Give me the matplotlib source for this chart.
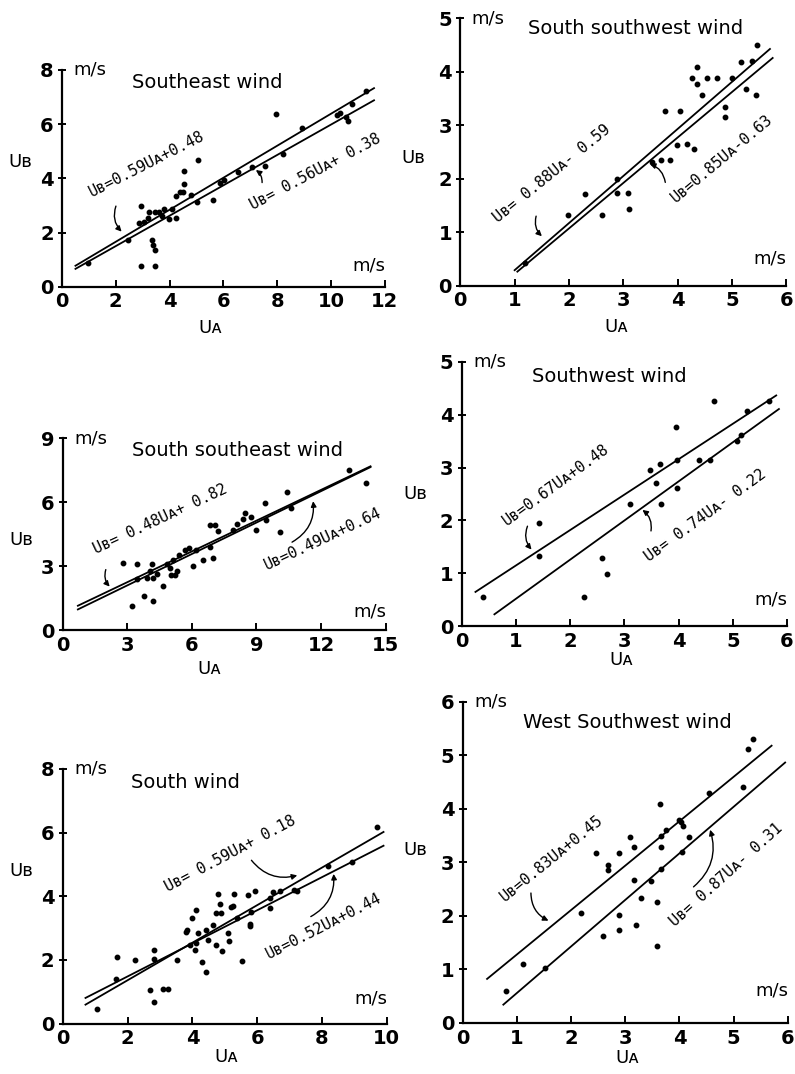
import matplotlib.pyplot as plt
import numpy as np

# ---- data ----
# Southeast wind
se_x = [0.95, 2.47, 2.93, 2.93, 2.88, 3.03, 3.25, 3.34, 3.40, 3.44, 3.46, 3.46, 3.60, 3.78,
        3.96, 4.08, 4.23, 4.23, 4.40, 4.50, 4.55, 4.55, 4.79, 5.01, 5.07, 5.63, 5.88, 6.03,
        6.56, 7.08, 7.55, 7.96, 8.20, 8.91, 10.23, 10.33, 10.54, 10.64, 10.77, 11.32, 3.20, 3.70]
se_y = [0.86, 1.72, 2.98, 0.77, 2.36, 2.40, 2.76, 1.74, 1.53, 1.37, 0.77, 2.76, 2.76, 2.86,
        2.51, 2.88, 2.55, 3.35, 3.50, 3.50, 3.80, 4.26, 3.37, 3.13, 4.69, 3.19, 3.84, 3.93,
        4.23, 4.42, 4.45, 6.36, 4.91, 5.85, 6.34, 6.41, 6.26, 6.11, 6.75, 7.21, 2.55, 2.60]

# South southwest wind
ssw_x = [1.19, 1.98, 2.29, 2.60, 2.89, 2.89, 3.09, 3.10, 3.53, 3.69, 3.77, 3.86, 3.98, 4.05,
         4.18, 4.27, 4.30, 4.35, 4.35, 4.45, 4.55, 4.72, 4.88, 4.88, 5.00, 5.16, 5.25, 5.37,
         5.47, 5.45]
ssw_y = [0.42, 1.32, 1.71, 1.32, 2.00, 1.74, 1.74, 1.43, 2.32, 2.35, 3.27, 2.35, 2.63, 3.27,
         2.64, 3.88, 2.55, 4.09, 3.78, 3.57, 3.88, 3.88, 3.16, 3.35, 3.88, 4.19, 3.67, 4.21,
         4.50, 3.57]

# South southeast wind
sse_x = [2.78, 3.20, 3.43, 3.43, 3.77, 3.90, 4.05, 4.13, 4.17, 4.20, 4.36, 4.64, 4.82, 4.98,
         5.05, 5.13, 5.20, 5.29, 5.39, 5.67, 5.87, 6.06, 6.21, 6.52, 6.86, 6.96, 6.83, 7.06,
         7.22, 7.90, 8.10, 8.38, 8.45, 8.76, 9.00, 9.41, 9.46, 10.08, 10.42, 10.62, 13.32, 14.10]
sse_y = [3.18, 1.13, 3.10, 2.43, 1.61, 2.47, 2.77, 3.10, 1.38, 2.47, 2.66, 2.08, 3.13, 2.94,
         2.58, 3.32, 2.58, 2.78, 3.52, 3.76, 3.88, 3.00, 3.76, 3.29, 3.91, 3.40, 4.93, 4.93,
         4.65, 4.70, 5.00, 5.24, 5.50, 5.31, 4.70, 5.95, 5.16, 4.61, 6.50, 5.75, 7.51, 6.92]

# Southwest wind
sw_x = [0.39, 1.42, 1.42, 2.25, 2.58, 2.68, 3.10, 3.48, 3.59, 3.66, 3.68, 3.96, 3.97, 3.97,
        4.37, 4.57, 4.65, 5.08, 5.15, 5.27, 5.66]
sw_y = [0.55, 1.95, 1.33, 0.55, 1.29, 0.98, 2.31, 2.95, 2.71, 3.06, 2.32, 3.76, 3.14, 2.62,
        3.14, 3.14, 4.27, 3.51, 3.62, 4.07, 4.27]

# South wind
s_x = [1.06, 1.67, 1.63, 2.22, 2.68, 2.80, 2.80, 2.80, 3.10, 3.25, 3.51, 3.81, 3.84, 4.00,
       4.10, 3.92, 4.07, 4.12, 4.18, 4.31, 4.41, 4.43, 4.48, 4.64, 4.72, 4.74, 4.79, 4.85,
       4.88, 4.90, 5.10, 5.13, 5.18, 5.26, 5.29, 5.38, 5.52, 5.72, 5.77, 5.80, 5.79, 5.93,
       6.39, 6.41, 6.49, 6.70, 7.13, 7.22, 8.20, 8.92, 9.69]
s_y = [0.46, 2.10, 1.40, 2.01, 1.04, 0.67, 2.30, 2.04, 1.09, 1.09, 2.01, 2.87, 2.93, 3.32,
       3.56, 2.48, 2.30, 2.54, 2.85, 1.93, 1.61, 2.95, 2.64, 3.11, 3.47, 2.48, 4.06, 3.77,
       3.47, 2.27, 2.85, 2.59, 3.65, 3.69, 4.06, 3.32, 1.96, 4.03, 3.06, 3.50, 3.14, 4.15,
       3.95, 3.63, 4.12, 4.15, 4.19, 4.18, 4.94, 5.07, 6.18]

# West southwest wind
wsw_x = [0.80, 1.11, 1.52, 2.18, 2.46, 2.58, 2.68, 2.68, 2.88, 2.88, 2.89, 3.08, 3.17, 3.17,
         3.19, 3.29, 3.48, 3.58, 3.58, 3.64, 3.66, 3.66, 3.66, 3.75, 3.99, 4.03, 4.06, 4.05,
         4.17, 4.55, 5.17, 5.26, 5.35]
wsw_y = [0.60, 1.11, 1.02, 2.06, 3.18, 1.62, 2.95, 2.85, 3.17, 2.02, 1.73, 3.48, 3.28, 2.67,
         1.84, 2.34, 2.65, 2.26, 1.43, 4.09, 3.49, 3.28, 2.87, 3.60, 3.80, 3.76, 3.68, 3.20,
         3.48, 4.29, 4.40, 5.11, 5.31]

# regression lines: (slope, intercept, x from, x to)
se_fit = [(0.59, 0.48, 0.5, 11.6), (0.56, 0.38, 0.5, 11.6)]
ssw_fit = [(0.88, -0.59, 1.0, 5.7), (0.85, -0.63, 1.05, 5.75)]
sse_fit = [(0.48, 0.82, 0.7, 14.3), (0.49, 0.64, 0.7, 14.3)]
sw_fit = [(0.67, 0.48, 0.25, 5.8), (0.74, -0.22, 0.6, 5.85)]
s_fit = [(0.59, 0.18, 0.7, 9.9), (0.52, 0.44, 0.7, 9.9)]
wsw_fit = [(0.83, 0.45, 0.45, 5.7), (0.87, -0.31, 0.75, 5.95)]

# equation labels: (text, x, y, rotation, arrow start, arrow end)
se_eq = [("Uʙ=0.59Uᴀ+0.48", 3.16, 4.54, 27, (2.04, 3.07), (2.29, 1.96)),
         ("Uʙ= 0.56Uᴀ+ 0.38", 9.4, 4.23, 28, (7.43, 3.74), (7.12, 4.36))]
ssw_eq = [("Uʙ= 0.88Uᴀ- 0.59", 1.69, 2.09, 39, (1.41, 1.35), (1.54, 0.89)),
          ("Uʙ=0.85Uᴀ-0.63", 4.82, 2.38, 40, (3.78, 1.88), (3.44, 2.29))]
sse_eq = [("Uʙ= 0.48Uᴀ+ 0.82", 4.51, 5.21, 25, (2.04, 2.97), (2.27, 1.96)),
          ("Uʙ=0.49Uᴀ+0.64", 12.09, 4.26, 25, (10.54, 4.07), (11.62, 6.18))]
sw_eq = [("Uʙ=0.67Uᴀ+0.48", 1.74, 2.68, 36, (1.23, 1.94), (1.32, 1.41)),
         ("Uʙ= 0.74Uᴀ- 0.22", 4.49, 2.10, 36, (3.48, 1.75), (3.29, 2.23))]
s_eq = [("Uʙ= 0.59Uᴀ+ 0.18", 5.18, 5.34, 28, (5.77, 5.20), (7.32, 4.68)),
        ("Uʙ=0.52Uᴀ+0.44", 8.06, 3.06, 27, (7.58, 3.32), (8.35, 4.79))]
wsw_eq = [("Uʙ=0.83Uᴀ+0.45", 1.64, 3.07, 39, (1.26, 2.48), (1.63, 1.89)),
          ("Uʙ= 0.87Uᴀ- 0.31", 4.87, 2.76, 42, (4.22, 2.51), (4.55, 3.66))]

panels = [
    # rect, title, title pos, x, y, fits, eqs, xlim, xticks, ylim, yticks, ylabel pos, xlabel pos
    ([0.078, 0.733, 0.406, 0.202], "Southeast wind", (0.45, 0.94), se_x, se_y, se_fit, se_eq,
     12, [0, 2, 4, 6, 8, 10, 12], 8, [0, 2, 4, 6, 8], (-0.13, 0.576), (0.458, -0.19)),
    ([0.579, 0.734, 0.410, 0.249], "South southwest wind", (0.537, 0.963), ssw_x, ssw_y, ssw_fit, ssw_eq,
     6, [0, 1, 2, 3, 4, 5, 6], 5, [0, 1, 2, 3, 4, 5], (-0.145, 0.478), (0.48, -0.153)),
    ([0.079, 0.413, 0.406, 0.179], "South southeast wind", (0.542, 0.937), sse_x, sse_y, sse_fit, sse_eq,
     15, [0, 3, 6, 9, 12, 15], 9, [0, 3, 6, 9], (-0.13, 0.47), (0.455, -0.198)),
    ([0.581, 0.417, 0.409, 0.246], "Southwest wind", (0.452, 0.943), sw_x, sw_y, sw_fit, sw_eq,
     6, [0, 1, 2, 3, 4, 5, 6], 5, [0, 1, 2, 3, 4, 5], (-0.145, 0.50), (0.49, -0.129)),
    ([0.079, 0.047, 0.4075, 0.237], "South wind", (0.377, 0.945), s_x, s_y, s_fit, s_eq,
     10, [0, 2, 4, 6, 8, 10], 8, [0, 2, 4, 6, 8], (-0.13, 0.60), (0.506, -0.133)),
    ([0.582, 0.0475, 0.409, 0.299], "West Southwest wind", (0.505, 0.935), wsw_x, wsw_y, wsw_fit, wsw_eq,
     6, [0, 1, 2, 3, 4, 5, 6], 6, [0, 1, 2, 3, 4, 5, 6], (-0.145, 0.54), (0.505, -0.109)),
]

tick_font = dict(family=['Liberation Sans Narrow', 'DejaVu Sans'], weight='bold', size=14)
eq_font = ['DejaVu Sans Mono', 'DejaVu Sans']

fig = plt.figure(figsize=(7.95, 10.74), dpi=100)

for (rect, title, tpos, xs, ys, fits, eqs, xmax, xticks, ymax, yticks, ylpos, xlpos) in panels:
    ax = fig.add_axes(rect)
    ax.set_xlim(0, xmax)
    ax.set_ylim(0, ymax)
    ax.spines['top'].set_visible(False)
    ax.spines['right'].set_visible(False)
    ax.spines['left'].set_linewidth(1.6)
    ax.spines['bottom'].set_linewidth(1.6)
    ax.set_xticks(xticks)
    ax.set_yticks(yticks)
    ax.set_xticklabels([str(t) for t in xticks], fontdict=tick_font)
    ax.set_yticklabels([str(t) for t in yticks], fontdict=tick_font)
    ax.tick_params(axis='x', direction='in', length=5, width=1.4, pad=4)
    ax.tick_params(axis='y', direction='inout', length=6, width=1.4, pad=3)

    ax.plot(xs, ys, 'o', color='black', markersize=3.2, clip_on=False)
    for slope, icpt, x0, x1 in fits:
        xx = np.array([x0, x1])
        ax.plot(xx, slope * xx + icpt, color='black', lw=1.3, clip_on=False)

    for txt, tx, ty, rot, start, end in eqs:
        ax.text(tx, ty, txt, rotation=rot, rotation_mode='anchor', ha='center', va='center',
                family=eq_font, fontsize=11)
        ax.annotate("", xy=end, xytext=start,
                    arrowprops=dict(arrowstyle='-|>', color='black', lw=1.0,
                                    mutation_scale=8, connectionstyle='arc3,rad=0.35'))

    ax.text(tpos[0], tpos[1], title, transform=ax.transAxes, ha='center', va='center',
            fontsize=14)
    ax.text(0.035, 1.0, "m/s", transform=ax.transAxes, ha='left', va='center', fontsize=13)
    ax.text(0.95, 0.10, "m/s", transform=ax.transAxes, ha='center', va='center', fontsize=13)
    ax.text(ylpos[0], ylpos[1], "Uʙ", transform=ax.transAxes, ha='center', va='center', fontsize=13)
    ax.text(xlpos[0], xlpos[1], "Uᴀ", transform=ax.transAxes, ha='center', va='center', fontsize=13)

fig.savefig("out.png", dpi=100)
